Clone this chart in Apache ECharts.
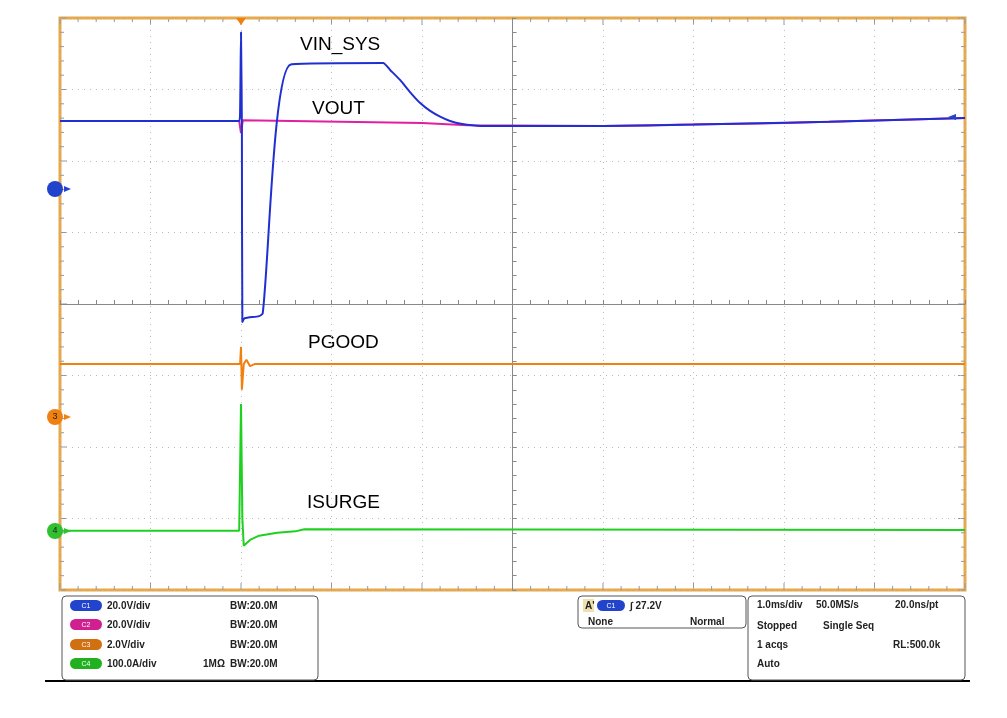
<!DOCTYPE html><html><head><meta charset="utf-8">
<script src="https://cdn.jsdelivr.net/npm/echarts@6/dist/echarts.min.js"></script>
<style>html,body{margin:0;padding:0;background:#fff}#c{width:1007px;height:718px}</style></head><body><div id="c"></div>
<script>
// time in ms (0 = screen centre), values in divisions
const vinSys = [[-5,2.56],[-3.02,2.56],[-3.01,2.7],[-3.0,3.8],[-2.99,2.4],[-2.985,-0.25],[-2.96,-0.2],[-2.8,-0.17],[-2.76,-0.13],[-2.45,3.35],[-1.43,3.37],[-1.35,3.27],[-1.24,3.13],[-1.13,2.96],[-1.02,2.81],[-0.91,2.7],[-0.8,2.62],[-0.69,2.56],[-0.57,2.52],[-0.35,2.49],[1,2.49],[2,2.51],[3.5,2.55],[5,2.6]];
const vout = [[-5,2.56],[-3.02,2.56],[-3.0,2.39],[-2.98,2.57],[-1,2.53],[-0.5,2.5],[1,2.49],[3,2.53],[5,2.6]];
const pgood = [[-5,-0.84],[-3.01,-0.84],[-3.0,-0.6],[-2.99,-1.2],[-2.97,-0.84],[-2.94,-0.78],[-2.9,-0.87],[-2.85,-0.84],[5,-0.84]];
const isurge = [[-5,-3.17],[-3.02,-3.17],[-3.0,-1.4],[-2.985,-3.0],[-2.97,-3.38],[-2.9,-3.3],[-2.8,-3.24],[-2.6,-3.2],[-2.4,-3.18],[-2.3,-3.15],[5,-3.16]];
const labels = [['VIN_SYS',340,47],['VOUT',352,111],['PGOOD',348,345],['ISURGE',347,505]];
const chA = [['C1','#2244cc','20.0V/div','',605],['C2','#d02090','20.0V/div','',624],['C3','#d07010','2.0V/div','',644],['C4','#20b020','100.0A/div','1MΩ',663]];
const info = [['1.0ms/div',757,605],['50.0MS/s',816,605],['20.0ns/pt',895,605],['Stopped',757,626],['Single Seq',823,626],['1 acqs',757,645],['RL:500.0k',893,645],['Auto',757,664]];

const ch = echarts.init(document.getElementById('c'));
const G = {left:60,top:18,width:905,height:572};
const tf = {fontFamily:'Liberation Sans',fontSize:10,fontWeight:'bold',fill:'#222'};
const graphic = [];
labels.forEach(l=>graphic.push({type:'text',left:l[1]-40,top:l[2]-12,style:{text:l[0],fontFamily:'Liberation Sans',fontSize:19,fill:'#000',width:80,align:'center'}}));
graphic.push({type:'line',shape:{x1:45,y1:681,x2:970,y2:681},style:{stroke:'#000',lineWidth:2}});
[[62,596,256,84],[578,596,168,32],[748,596,217,84]].forEach(b=>graphic.push({type:'rect',shape:{x:b[0],y:b[1],width:b[2],height:b[3],r:4},style:{fill:'none',stroke:'#555',lineWidth:1}}));
chA.forEach(c=>{
  graphic.push({type:'rect',shape:{x:70,y:c[4]-5,width:32,height:11,r:5.5},style:{fill:c[1]}});
  graphic.push({type:'text',x:86,y:c[4]+1,style:{text:c[0],fill:'#fff',fontSize:7,fontFamily:'Liberation Sans',align:'center',verticalAlign:'middle'}});
  graphic.push({type:'text',x:107,y:c[4]+1,style:Object.assign({},tf,{text:c[2],verticalAlign:'middle'})});
  graphic.push({type:'text',x:230,y:c[4]+1,style:Object.assign({},tf,{text:'BW:20.0M',verticalAlign:'middle'})});
  if(c[3]) graphic.push({type:'text',x:203,y:c[4]+1,style:Object.assign({},tf,{text:c[3],verticalAlign:'middle'})});
});
graphic.push({type:'rect',shape:{x:583,y:599,width:11,height:13},style:{fill:'#f0e0b0'}});
graphic.push({type:'text',x:585,y:606,style:Object.assign({},tf,{text:"A'",verticalAlign:'middle'})});
graphic.push({type:'rect',shape:{x:597,y:600,width:28,height:11,r:5.5},style:{fill:'#2244cc'}});
graphic.push({type:'text',x:611,y:606,style:{text:'C1',fill:'#fff',fontSize:7,fontFamily:'Liberation Sans',align:'center',verticalAlign:'middle'}});
graphic.push({type:'text',x:630,y:606,style:Object.assign({},tf,{text:'∫ 27.2V',verticalAlign:'middle'})});
graphic.push({type:'text',x:588,y:622,style:Object.assign({},tf,{text:'None',verticalAlign:'middle'})});
graphic.push({type:'text',x:690,y:622,style:Object.assign({},tf,{text:'Normal',verticalAlign:'middle'})});
info.forEach(i=>graphic.push({type:'text',x:i[1],y:i[2],style:Object.assign({},tf,{text:i[0],verticalAlign:'middle'})}));
// channel markers
[[189,'#2244cc',''],[417,'#f08010','3'],[531,'#30c030','4']].forEach(m=>{
  graphic.push({type:'circle',shape:{cx:55,cy:m[0],r:8},style:{fill:m[1]},z:10});
  graphic.push({type:'text',x:55,y:m[0],style:{text:m[2],fill:'#222',fontSize:9,fontFamily:'Liberation Sans',align:'center',verticalAlign:'middle'},z:11});
  graphic.push({type:'polygon',shape:{points:[[64,m[0]-3],[71,m[0]],[64,m[0]+3]]},style:{fill:m[1]},z:10});
});
graphic.push({type:'polygon',shape:{points:[[236,18],[246,18],[241,25]]},style:{fill:'#f08010'},z:10});
graphic.push({type:'polygon',shape:{points:[[948,117],[956,114],[956,120]]},style:{fill:'#2244cc'},z:10});
// border ticks
const ticks=[];
for(let i=0;i<=50;i++){const x=60+905*i/50;ticks.push({type:'line',shape:{x1:x,y1:18,x2:x,y2:i%5?22:25},style:{stroke:'#999'}});ticks.push({type:'line',shape:{x1:x,y1:590,x2:x,y2:i%5?586:583},style:{stroke:'#999'}});}
for(let i=0;i<=40;i++){const y=18+572*i/40;ticks.push({type:'line',shape:{x1:60,y1:y,x2:i%5?64:67,y2:y},style:{stroke:'#999'}});ticks.push({type:'line',shape:{x1:965,y1:y,x2:i%5?961:958,y2:y},style:{stroke:'#999'}});}
ticks.forEach(t=>graphic.push(t));

const dot = {show:true,lineStyle:{color:'#bbb',type:[1,5],width:1}};
ch.setOption({
  animation:false,
  grid:{left:G.left,top:G.top,width:G.width,height:G.height,show:true,borderColor:'#e8a848',borderWidth:3},
  graphic,
  xAxis:{type:'value',min:-5,max:5,interval:1,axisLabel:{show:false},splitLine:dot,axisLine:{show:true,onZero:true,lineStyle:{color:'#888',width:1}},axisTick:{show:true,inside:true,length:4,lineStyle:{color:'#888'}},minorTick:{show:true,splitNumber:5,length:4,lineStyle:{color:'#888'}}},
  yAxis:{type:'value',min:-4,max:4,interval:1,axisLabel:{show:false},splitLine:dot,axisLine:{show:true,onZero:true,lineStyle:{color:'#888',width:1}},axisTick:{show:true,inside:true,length:4,lineStyle:{color:'#888'}},minorTick:{show:true,splitNumber:5,length:4,lineStyle:{color:'#888'}}},
  series:[
    {type:'line',data:vout,showSymbol:false,lineStyle:{color:'#e020a0',width:2},z:3},
    {type:'line',data:vinSys,showSymbol:false,smooth:0.2,lineStyle:{color:'#2030d0',width:2},z:4},
    {type:'line',data:pgood,showSymbol:false,lineStyle:{color:'#f08010',width:2},z:3},
    {type:'line',data:isurge,showSymbol:false,lineStyle:{color:'#20d020',width:2},z:3}
  ]
});
</script></body></html>
